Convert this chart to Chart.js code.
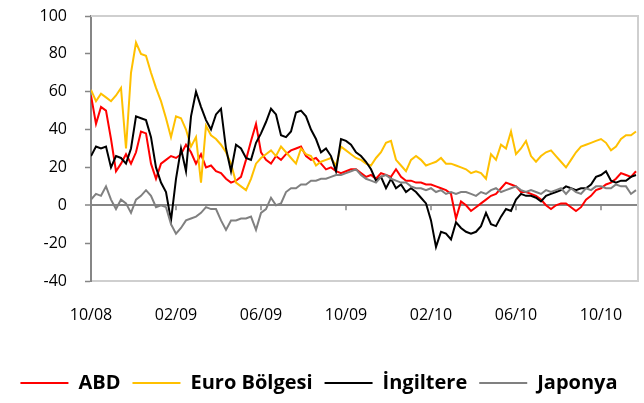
<!DOCTYPE html>
<html lang="tr">
<head>
<meta charset="utf-8">
<title>ABD, Euro Bölgesi, İngiltere, Japonya</title>
<script src="https://cdn.jsdelivr.net/npm/chart.js@4/dist/chart.umd.min.js"></script>
<style>
    html, body { margin: 0; padding: 0; background: #fff; }
    #wrap { width: 644px; height: 403px; position: relative; }
</style>
</head>
<body>
<div id="wrap"><canvas id="chart"></canvas></div>
<script>
// Axis labels (one every 17 weekly observations, 10/2008 - 11/2010)
const tickLabels = ['10/08', '02/09', '06/09', '10/09', '02/10', '06/10', '10/10'];
const weeksPerLabel = 17;
const yTicks = { min: -40, max: 100, step: 20 };

const seriesNames = ['ABD', 'Euro Bölgesi', 'İngiltere', 'Japonya'];
const seriesColors = ['#ff0000', '#ffc000', '#000000', '#808080'];

// Weekly values
const abd = [
    58, 43, 52, 50, 35, 18, 22, 27, 22, 28, 39, 38, 22, 14, 22, 24, 26, 25, 27, 32,
    28, 22, 27, 20, 21, 18, 17, 14, 12, 13, 15, 24, 34, 43, 28, 24, 22, 26, 24, 27,
    29, 30, 31, 26, 24, 25, 22, 19, 20, 18, 17, 18, 19, 19, 17, 15, 16, 14, 17, 16,
    15, 19, 15, 13, 13, 12, 12, 11, 11, 10, 9, 8, 6, -7, 2, 0, -3, -1, 1, 3,
    5, 6, 9, 12, 11, 10, 7, 7, 6, 5, 3, 0, -2, 0, 1, 1, -1, -3, -1, 3,
    5, 8, 9, 11, 12, 14, 17, 16, 15, 18
];
const euroBolgesi = [
    61, 55, 59, 57, 55, 58, 62, 30, 70, 86, 80, 79, 70, 62, 55, 46, 36, 47, 46, 40,
    31, 36, 12, 42, 37, 35, 32, 28, 22, 12, 10, 8, 14, 22, 25, 27, 29, 26, 31, 28,
    25, 22, 30, 27, 26, 21, 23, 24, 25, 21, 31, 29, 27, 25, 24, 22, 21, 25, 28, 33,
    34, 24, 21, 18, 24, 26, 24, 21, 22, 23, 25, 22, 22, 21, 20, 19, 17, 18, 17, 14,
    27, 24, 32, 30, 39, 27, 30, 34, 26, 23, 26, 28, 29, 26, 23, 20, 24, 28, 31, 32,
    33, 34, 35, 33, 29, 31, 35, 37, 37, 39
];
const ingiltere = [
    26, 31, 30, 31, 20, 26, 25, 22, 30, 47, 46, 45, 36, 20, 12, 7, -8, 14, 30, 18,
    47, 60, 52, 45, 40, 48, 51, 30, 18, 32, 30, 25, 24, 33, 38, 44, 51, 48, 37, 36,
    39, 49, 50, 47, 40, 35, 28, 30, 26, 18, 35, 34, 32, 28, 26, 23, 19, 13, 15, 9,
    14, 9, 11, 7, 9, 7, 4, 1, -8, -22, -14, -15, -18, -9, -12, -14, -15, -14, -11, -4,
    -10, -11, -6, -2, -3, 3, 6, 5, 5, 4, 2, 5, 6, 7, 8, 10, 9, 8, 9, 9,
    11, 15, 16, 18, 13, 12, 13, 13, 15, 16
];
const japonya = [
    3, 6, 5, 10, 3, -2, 3, 1, -4, 3, 5, 8, 5, -1, 0, -1, -10, -15, -12, -8,
    -7, -6, -4, -1, -2, -2, -8, -13, -8, -8, -7, -7, -6, -13, -4, -2, 4, 0, 1, 7,
    9, 9, 11, 11, 13, 13, 14, 14, 15, 16, 16, 17, 18, 19, 16, 14, 13, 12, 15, 16,
    14, 13, 12, 12, 10, 9, 9, 8, 9, 7, 8, 6, 7, 6, 7, 7, 6, 5, 7, 6,
    8, 9, 7, 8, 9, 10, 8, 7, 8, 7, 6, 8, 7, 8, 9, 6, 9, 7, 6, 9,
    8, 10, 10, 9, 9, 11, 10, 10, 6, 8
];

const seriesValues = [abd, euroBolgesi, ingiltere, japonya];
const fontFamily = "'Open Sans', sans-serif";

// Light plot frame plus the small category ticks on the zero line
const plotFrame = {
    id: 'plotFrame',
    beforeDatasetsDraw(chart) {
        const { ctx, chartArea: a, scales } = chart;
        ctx.save();
        ctx.strokeStyle = '#cfcfcf';
        ctx.lineWidth = 2;
        ctx.beginPath();
        ctx.moveTo(a.left, a.top);
        ctx.lineTo(a.right, a.top);
        ctx.lineTo(a.right, a.bottom);
        ctx.lineTo(a.left + 1, a.bottom);
        ctx.stroke();

        const zeroY = scales.y.getPixelForValue(0);
        ctx.strokeStyle = '#868686';
        ctx.lineWidth = 1.5;
        ctx.beginPath();
        scales.x.ticks.forEach(t => {
            const px = scales.x.getPixelForValue(t.value);
            ctx.moveTo(px, zeroY);
            ctx.lineTo(px, zeroY + 5);
        });
        ctx.stroke();
        ctx.restore();
    }
};

const datasets = seriesNames.map((name, i) => ({
    label: name,
    data: seriesValues[i],
    borderColor: seriesColors[i],
    backgroundColor: seriesColors[i],
    pointBorderColor: seriesColors[i],
    pointBackgroundColor: seriesColors[i],
    borderWidth: 2,
    pointBorderWidth: 2,
    pointRadius: 0,
    tension: 0,
    fill: false,
    order: seriesNames.length - i // later series drawn on top, like the original
}));

new Chart(document.getElementById('chart'), {
    type: 'line',
    data: {
        labels: abd.map((_, i) => i),
        datasets: datasets
    },
    options: {
        responsive: true,
        maintainAspectRatio: false,
        animation: false,
        layout: { padding: { left: 0, right: 6, top: 16, bottom: 0 } },
        plugins: {
            tooltip: { enabled: false },
            legend: {
                position: 'bottom',
                labels: {
                    usePointStyle: true,
                    pointStyle: 'line',
                    pointStyleWidth: 48,
                    padding: 12,
                    color: '#000',
                    font: { family: fontFamily, size: 20, weight: 'bold' },
                    sort: (a, b) => a.datasetIndex - b.datasetIndex
                }
            }
        },
        scales: {
            x: {
                type: 'linear',
                min: 0,
                max: 109.4,
                afterBuildTicks: scale => {
                    scale.ticks = tickLabels.map((_, i) => ({ value: i * weeksPerLabel }));
                },
                afterFit: scale => { scale.height = 80; },
                grid: { display: false },
                border: { display: false },
                ticks: {
                    autoSkip: false,
                    maxRotation: 0,
                    padding: 17,
                    color: '#000',
                    font: { family: fontFamily, size: 16 },
                    callback: (value, index) => tickLabels[index]
                }
            },
            y: {
                min: yTicks.min,
                max: yTicks.max,
                afterFit: scale => {
                    scale.width = 91;
                    // keep the wide label gap from pushing the plot down
                    scale.paddingTop = 10;
                    scale.paddingBottom = 10;
                },
                grid: {
                    color: ctx => ctx.tick && ctx.tick.value === 0 ? '#868686' : 'rgba(0,0,0,0)',
                    lineWidth: ctx => ctx.tick && ctx.tick.value === 0 ? 2 : 1,
                    tickColor: '#868686',
                    tickLength: 6,
                    tickWidth: 1.5
                },
                border: { display: true, color: '#868686', width: 2 },
                ticks: {
                    stepSize: yTicks.step,
                    padding: 18,
                    color: '#000',
                    font: { family: fontFamily, size: 16 }
                }
            }
        }
    },
    plugins: [plotFrame]
});
</script>
</body>
</html>
